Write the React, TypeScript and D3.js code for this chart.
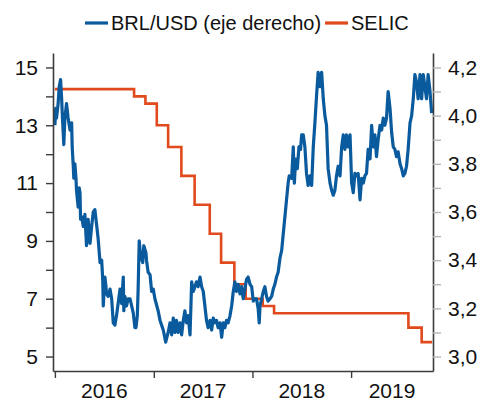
import { useRef, useEffect } from 'react';
import * as d3 from 'd3';

// BRL/USD (right axis)
const brlUsd: [string, number][] = [
    ['2016-01-01', 3.96], ['2016-01-04', 4.03], ['2016-01-07', 3.99], ['2016-01-13', 4.05], ['2016-01-17', 4.12],
    ['2016-01-22', 4.15], ['2016-01-26', 4.07], ['2016-01-29', 3.99], ['2016-02-03', 3.88], ['2016-02-07', 3.99],
    ['2016-02-13', 4.05], ['2016-02-19', 3.99], ['2016-02-26', 3.94], ['2016-03-03', 3.97], ['2016-03-05', 3.87],
    ['2016-03-09', 3.79], ['2016-03-11', 3.74], ['2016-03-15', 3.80], ['2016-03-19', 3.74], ['2016-03-21', 3.69],
    ['2016-03-27', 3.62], ['2016-03-31', 3.70], ['2016-04-03', 3.68], ['2016-04-05', 3.57], ['2016-04-09', 3.58],
    ['2016-04-15', 3.54], ['2016-04-21', 3.59], ['2016-04-27', 3.46], ['2016-05-03', 3.57], ['2016-05-10', 3.47],
    ['2016-05-16', 3.54], ['2016-05-22', 3.60], ['2016-05-28', 3.61], ['2016-06-03', 3.55], ['2016-06-09', 3.49],
    ['2016-06-16', 3.39], ['2016-06-22', 3.40], ['2016-06-26', 3.32], ['2016-06-28', 3.21], ['2016-07-04', 3.33],
    ['2016-07-08', 3.29], ['2016-07-10', 3.26], ['2016-07-16', 3.25], ['2016-07-23', 3.28], ['2016-07-29', 3.24],
    ['2016-08-04', 3.14], ['2016-08-10', 3.13], ['2016-08-16', 3.17], ['2016-08-22', 3.22], ['2016-08-29', 3.28],
    ['2016-09-04', 3.22], ['2016-09-10', 3.33], ['2016-09-12', 3.19], ['2016-09-16', 3.25], ['2016-09-22', 3.21],
    ['2016-09-28', 3.24], ['2016-10-05', 3.24], ['2016-10-11', 3.21], ['2016-10-17', 3.18], ['2016-10-23', 3.12],
    ['2016-10-27', 3.12], ['2016-11-01', 3.17], ['2016-11-04', 3.28], ['2016-11-08', 3.48], ['2016-11-13', 3.42],
    ['2016-11-21', 3.39], ['2016-11-25', 3.46], ['2016-12-03', 3.43], ['2016-12-05', 3.40], ['2016-12-11', 3.35],
    ['2016-12-18', 3.34], ['2016-12-24', 3.27], ['2016-12-30', 3.28],
    ['2017-01-05', 3.24], ['2017-01-17', 3.19], ['2017-01-24', 3.15], ['2017-02-05', 3.11], ['2017-02-14', 3.06],
    ['2017-02-23', 3.10], ['2017-03-02', 3.14], ['2017-03-08', 3.09], ['2017-03-14', 3.16], ['2017-03-20', 3.10],
    ['2017-03-26', 3.15], ['2017-04-01', 3.10], ['2017-04-08', 3.14], ['2017-04-14', 3.09], ['2017-04-20', 3.15],
    ['2017-04-26', 3.19], ['2017-05-02', 3.14], ['2017-05-08', 3.17], ['2017-05-15', 3.09], ['2017-05-21', 3.31],
    ['2017-05-27', 3.27], ['2017-06-02', 3.29], ['2017-06-08', 3.31], ['2017-06-14', 3.29], ['2017-06-21', 3.33],
    ['2017-06-27', 3.29], ['2017-07-03', 3.27], ['2017-07-09', 3.21], ['2017-07-15', 3.15], ['2017-07-21', 3.12],
    ['2017-07-28', 3.15], ['2017-08-03', 3.11], ['2017-08-09', 3.16], ['2017-08-15', 3.14], ['2017-08-21', 3.15],
    ['2017-08-27', 3.12], ['2017-09-03', 3.14], ['2017-09-09', 3.08], ['2017-09-15', 3.14], ['2017-09-21', 3.12],
    ['2017-09-27', 3.15], ['2017-10-03', 3.14], ['2017-10-10', 3.17], ['2017-10-16', 3.21], ['2017-10-22', 3.27],
    ['2017-10-28', 3.31], ['2017-11-03', 3.27], ['2017-11-09', 3.30], ['2017-11-16', 3.26], ['2017-11-22', 3.29],
    ['2017-11-28', 3.24], ['2017-12-04', 3.28], ['2017-12-10', 3.32], ['2017-12-16', 3.33], ['2017-12-23', 3.30],
    ['2017-12-29', 3.29],
    ['2018-01-04', 3.23], ['2018-01-10', 3.24], ['2018-01-16', 3.24], ['2018-01-22', 3.20], ['2018-01-26', 3.14],
    ['2018-01-29', 3.21], ['2018-02-04', 3.24], ['2018-02-10', 3.27], ['2018-02-16', 3.29], ['2018-02-22', 3.25],
    ['2018-02-28', 3.23], ['2018-03-07', 3.24], ['2018-03-13', 3.25], ['2018-03-19', 3.28], ['2018-03-25', 3.30],
    ['2018-03-31', 3.33], ['2018-04-06', 3.35], ['2018-04-13', 3.41], ['2018-04-19', 3.44], ['2018-04-25', 3.51],
    ['2018-05-01', 3.58], ['2018-05-07', 3.65], ['2018-05-13', 3.72], ['2018-05-17', 3.75], ['2018-05-26', 3.74],
    ['2018-06-01', 3.87], ['2018-06-05', 3.72], ['2018-06-10', 3.82], ['2018-06-16', 3.78], ['2018-06-22', 3.87],
    ['2018-06-28', 3.86], ['2018-07-02', 3.92], ['2018-07-08', 3.92], ['2018-07-14', 3.87], ['2018-07-20', 3.76],
    ['2018-07-26', 3.71], ['2018-08-02', 3.75], ['2018-08-08', 3.71], ['2018-08-14', 3.87], ['2018-08-20', 3.97],
    ['2018-08-26', 4.08], ['2018-09-01', 4.18], ['2018-09-08', 4.12], ['2018-09-14', 4.18], ['2018-09-20', 4.07],
    ['2018-09-26', 4.00], ['2018-10-02', 3.96], ['2018-10-08', 3.78], ['2018-10-15', 3.72], ['2018-10-21', 3.69],
    ['2018-10-27', 3.67], ['2018-11-02', 3.69], ['2018-11-08', 3.75], ['2018-11-14', 3.79], ['2018-11-21', 3.75],
    ['2018-11-27', 3.87], ['2018-12-03', 3.92], ['2018-12-09', 3.86], ['2018-12-15', 3.92], ['2018-12-21', 3.87],
    ['2018-12-28', 3.92],
    ['2019-01-03', 3.72], ['2019-01-09', 3.68], ['2019-01-15', 3.76], ['2019-01-21', 3.75], ['2019-01-27', 3.76],
    ['2019-02-03', 3.65], ['2019-02-09', 3.74], ['2019-02-15', 3.72], ['2019-02-21', 3.75], ['2019-02-27', 3.76],
    ['2019-03-05', 3.86], ['2019-03-12', 3.82], ['2019-03-18', 3.96], ['2019-03-24', 3.87], ['2019-03-30', 3.92],
    ['2019-04-05', 3.83], ['2019-04-11', 3.90], ['2019-04-18', 3.96], ['2019-04-24', 3.94], ['2019-04-30', 3.99],
    ['2019-05-06', 3.96], ['2019-05-12', 3.99], ['2019-05-18', 4.10], ['2019-05-25', 4.03], ['2019-05-31', 3.93],
    ['2019-06-06', 3.87], ['2019-06-12', 3.86], ['2019-06-18', 3.83], ['2019-06-24', 3.85], ['2019-07-01', 3.80],
    ['2019-07-07', 3.78], ['2019-07-13', 3.75], ['2019-07-19', 3.76], ['2019-07-25', 3.79], ['2019-07-31', 3.86],
    ['2019-08-07', 3.97], ['2019-08-13', 4.00], ['2019-08-19', 4.07], ['2019-08-25', 4.17], ['2019-08-31', 4.14],
    ['2019-09-06', 4.07], ['2019-09-13', 4.17], ['2019-09-19', 4.07], ['2019-09-25', 4.17], ['2019-10-01', 4.12],
    ['2019-10-07', 4.07], ['2019-10-13', 4.17], ['2019-10-20', 4.10], ['2019-10-26', 4.01],
];

// SELIC target rate (%), left axis: date of each change
const selic: [string, number][] = [
    ['2016-01-01', 14.25], ['2016-10-20', 14.0], ['2016-12-01', 13.75], ['2017-01-12', 13.0],
    ['2017-02-23', 12.25], ['2017-04-13', 11.25], ['2017-06-01', 10.25], ['2017-07-27', 9.25],
    ['2017-09-07', 8.25], ['2017-10-26', 7.5], ['2017-12-07', 7.0], ['2018-02-08', 6.75],
    ['2018-03-22', 6.5], ['2019-08-01', 6.0], ['2019-09-19', 5.5], ['2019-10-28', 5.5],
];

const leftTicks = [5, 6, 7, 8, 9, 10, 11, 12, 13, 14, 15];
const rightTicks = [3.0, 3.1, 3.2, 3.3, 3.4, 3.5, 3.6, 3.7, 3.8, 3.9, 4.0, 4.1, 4.2];
const years = [2016, 2017, 2018, 2019];
const xStart = '2015-12-25';
const xEnd = '2019-10-31';

const BLUE = '#0a5b9e';
const ORANGE = '#e14a1c';
const AXIS = '#3c3c3c';
const FONT = 'Liberation Sans, Arial, sans-serif';

export default function App() {
    const svgRef = useRef<SVGSVGElement | null>(null);
    const width = 482;
    const height = 403;

    useEffect(() => {
        if (!svgRef.current) return;
        const svg = d3.select(svgRef.current);
        svg.selectAll('*').remove();

        const margin = { top: 53, right: 49, bottom: 32, left: 53 };
        const x0 = margin.left;
        const x1 = width - margin.right;
        const y0 = height - margin.bottom;
        const y1 = margin.top;

        const parse = d3.timeParse('%Y-%m-%d');
        const xScale = d3.scaleTime()
            .domain([parse(xStart) as Date, parse(xEnd) as Date])
            .range([x0, x1]);
        const yLeft = d3.scaleLinear().domain([4.5, 15.5]).range([y0, y1]);
        const yRight = d3.scaleLinear().domain([2.94, 4.26]).range([y0, y1]);

        // SELIC step line
        const selicLine = d3.line<[string, number]>()
            .x(d => xScale(parse(d[0]) as Date))
            .y(d => yLeft(d[1]))
            .curve(d3.curveStepAfter);
        svg.append('path')
            .datum(selic)
            .attr('fill', 'none')
            .attr('stroke', ORANGE)
            .attr('stroke-width', 2.6)
            .attr('d', selicLine);

        // BRL/USD line
        const brlLine = d3.line<[string, number]>()
            .x(d => xScale(parse(d[0]) as Date))
            .y(d => yRight(d[1]));
        svg.append('path')
            .datum(brlUsd)
            .attr('fill', 'none')
            .attr('stroke', BLUE)
            .attr('stroke-width', 3.2)
            .attr('stroke-linejoin', 'round')
            .attr('d', brlLine);

        // left axis
        const gl = svg.append('g')
            .attr('transform', `translate(${x0},0)`)
            .call(d3.axisLeft(yLeft)
                .tickValues(leftTicks)
                .tickSize(7)
                .tickSizeOuter(0)
                .tickPadding(8)
                .tickFormat(d => (+d % 2 === 1 ? String(d) : '')));
        gl.select('.domain').attr('stroke', AXIS).attr('stroke-width', 1.6);
        gl.selectAll('.tick line').attr('stroke', AXIS).attr('stroke-width', 1.4);
        gl.selectAll('.tick text').attr('fill', '#111').style('font-size', '21px').style('font-family', FONT);

        // right axis
        const gr = svg.append('g')
            .attr('transform', `translate(${x1},0)`)
            .call(d3.axisRight(yRight)
                .tickValues(rightTicks)
                .tickSize(8)
                .tickSizeOuter(0)
                .tickPadding(7)
                .tickFormat(d => (Math.round(+d * 10) % 2 === 0 ? d3.format('.1f')(+d).replace('.', ',') : '')));
        gr.select('.domain').attr('stroke', AXIS).attr('stroke-width', 1.6);
        gr.selectAll('.tick line').attr('stroke', '#b5b5b5').attr('stroke-width', 1.4);
        gr.selectAll('.tick text').attr('fill', '#111').style('font-size', '21px').style('font-family', FONT);

        // bottom axis
        const gb = svg.append('g')
            .attr('transform', `translate(0,${y0})`)
            .call(d3.axisBottom(xScale)
                .tickValues(years.map(y => new Date(y, 0, 1)))
                .tickSize(7)
                .tickSizeOuter(0)
                .tickFormat(() => ''));
        gb.select('.domain').attr('stroke', AXIS).attr('stroke-width', 1.6);
        gb.selectAll('.tick line').attr('stroke', AXIS).attr('stroke-width', 1.4);

        // year labels centred between the year ticks
        gb.selectAll('text.year')
            .data(years)
            .enter().append('text')
            .attr('class', 'year')
            .attr('x', y => {
                const a = Math.max(xScale(new Date(y, 0, 1)), x0);
                const b = Math.min(xScale(new Date(y + 1, 0, 1)), x1);
                return (a + b) / 2;
            })
            .attr('y', 27)
            .attr('text-anchor', 'middle')
            .attr('fill', '#111')
            .style('font-size', '21px')
            .style('font-family', FONT)
            .text(y => String(y));

        // legend
        const legend = [
            { label: 'BRL/USD (eje derecho)', color: BLUE, x: 85 },
            { label: 'SELIC', color: ORANGE, x: 325 },
        ];
        const lg = svg.append('g').attr('transform', 'translate(0,23)');
        legend.forEach(l => {
            lg.append('line')
                .attr('x1', l.x).attr('x2', l.x + 23)
                .attr('y1', 0).attr('y2', 0)
                .attr('stroke', l.color)
                .attr('stroke-width', 3.2);
            lg.append('text')
                .attr('x', l.x + 26)
                .attr('y', 0)
                .attr('dy', '0.35em')
                .attr('fill', '#111')
                .style('font-size', '20px')
                .style('font-family', FONT)
                .text(l.label);
        });
    }, []);

    return (
        <svg ref={svgRef} width={width} height={height}
            style={{ position: 'absolute', left: 0, top: 0, background: '#fff' }} />
    );
}
